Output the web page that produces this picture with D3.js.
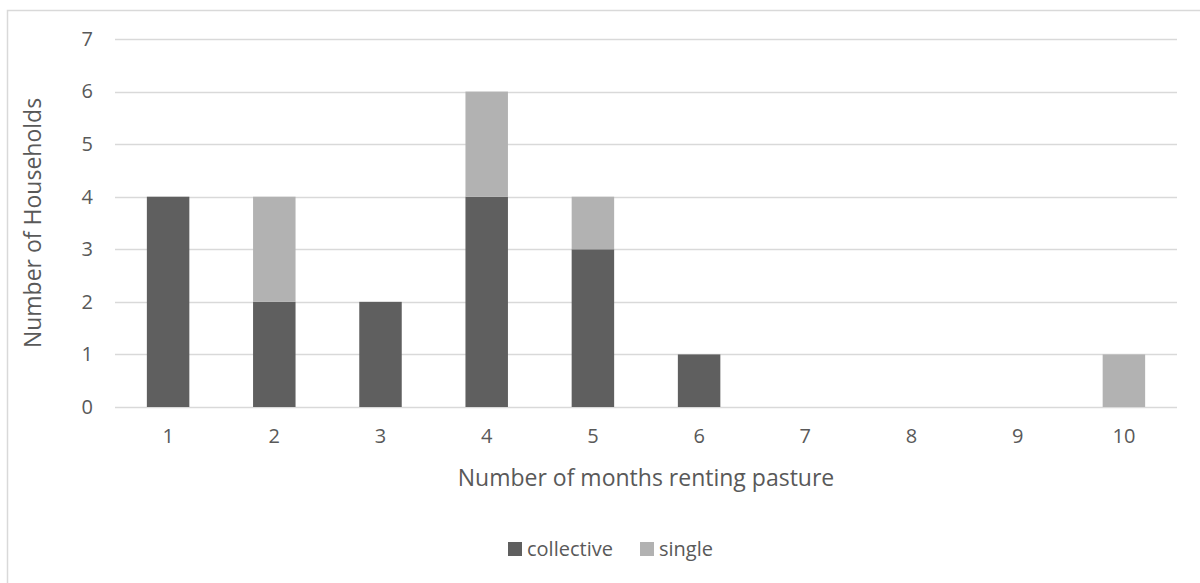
<!DOCTYPE html>
<html>
<head>
<meta charset="utf-8">
<script src="https://cdn.jsdelivr.net/npm/d3@7"></script>
<style>
  html, body { margin: 0; padding: 0; background: #fff; }
  svg { display: block; }
  text { font-family: "Open Sans", "Liberation Sans", sans-serif; fill: #595959; }
</style>
</head>
<body>
<svg id="chart" width="1200" height="583"></svg>
<script>
// Months of renting pasture (categories) and household counts per rental type
const months = ["1", "2", "3", "4", "5", "6", "7", "8", "9", "10"];
const collective = [4, 2, 2, 4, 3, 1, 0, 0, 0, 0];
const single = [0, 2, 0, 2, 1, 0, 0, 0, 0, 1];
const seriesNames = ["collective", "single"];
const seriesColors = ["#5f5f5f", "#b2b2b2"];
const yTicks = [0, 1, 2, 3, 4, 5, 6, 7];

const svg = d3.select("#chart");
const W = 1200, H = 583;
const plot = { left: 115, right: 1177, top: 39, bottom: 407 };
const font = '"Open Sans", "Liberation Sans", sans-serif';

// Chart frame
svg.append("rect")
  .attr("x", 7.5).attr("y", 10.5)
  .attr("width", W + 10).attr("height", H + 10)
  .attr("fill", "#fff").attr("stroke", "#d9d9d9").attr("stroke-width", 1.5);

const x = d3.scaleBand().domain(months).range([plot.left, plot.right]).paddingInner(0.6).paddingOuter(0.3);
const y = d3.scaleLinear().domain([0, 7]).range([plot.bottom, plot.top]);

// Horizontal gridlines
svg.append("g")
  .selectAll("line")
  .data(yTicks)
  .join("line")
  .attr("x1", plot.left).attr("x2", plot.right)
  .attr("y1", d => Math.round(y(d)) + 0.5).attr("y2", d => Math.round(y(d)) + 0.5)
  .attr("stroke", "#d9d9d9").attr("stroke-width", 1.5);

// Stacked bars
const rows = months.map((m, i) => ({ month: m, collective: collective[i], single: single[i] }));
const stacked = d3.stack().keys(seriesNames)(rows);
const color = d3.scaleOrdinal().domain(seriesNames).range(seriesColors);

svg.append("g")
  .selectAll("g")
  .data(stacked)
  .join("g")
  .attr("fill", d => color(d.key))
  .selectAll("rect")
  .data(d => d.filter(p => p[1] > p[0]))
  .join("rect")
  .attr("x", d => x(d.data.month))
  .attr("width", x.bandwidth())
  .attr("y", d => y(d[1]))
  .attr("height", d => y(d[0]) - y(d[1]));

// Y axis labels
const yAxis = d3.axisLeft(y).tickValues(yTicks).tickSize(0).tickPadding(0).tickFormat(d3.format("d"));
const yg = svg.append("g").attr("transform", `translate(${plot.left - 22},0)`).call(yAxis);
yg.select(".domain").remove();
yg.selectAll("text").attr("font-size", 20).attr("fill", "#595959").style("font-family", font);

// X axis labels
const xAxis = d3.axisBottom(x).tickSize(0).tickPadding(0);
const xg = svg.append("g").attr("transform", `translate(0,${plot.bottom + 22})`).call(xAxis);
xg.select(".domain").remove();
xg.selectAll("text").attr("font-size", 20).attr("fill", "#595959").style("font-family", font);

// Axis titles
svg.append("text")
  .attr("x", 646).attr("y", 478).attr("dy", "0.35em")
  .attr("text-anchor", "middle").attr("font-size", 23)
  .text("Number of months renting pasture");

svg.append("text")
  .attr("transform", `translate(33,${(plot.top + plot.bottom) / 2}) rotate(-90)`)
  .attr("dy", "0.35em")
  .attr("text-anchor", "middle").attr("font-size", 23)
  .text("Number of Households");

// Legend
const legend = svg.append("g").attr("transform", "translate(508,549)");
const items = legend.selectAll("g").data(seriesNames).join("g")
  .attr("transform", (d, i) => `translate(${i * 132},0)`);
items.append("rect").attr("x", 0).attr("y", -7).attr("width", 14).attr("height", 14)
  .attr("fill", d => color(d));
items.append("text").attr("x", 19).attr("y", 0).attr("dy", "0.35em")
  .attr("font-size", 20).text(d => d);
</script>
</body>
</html>
